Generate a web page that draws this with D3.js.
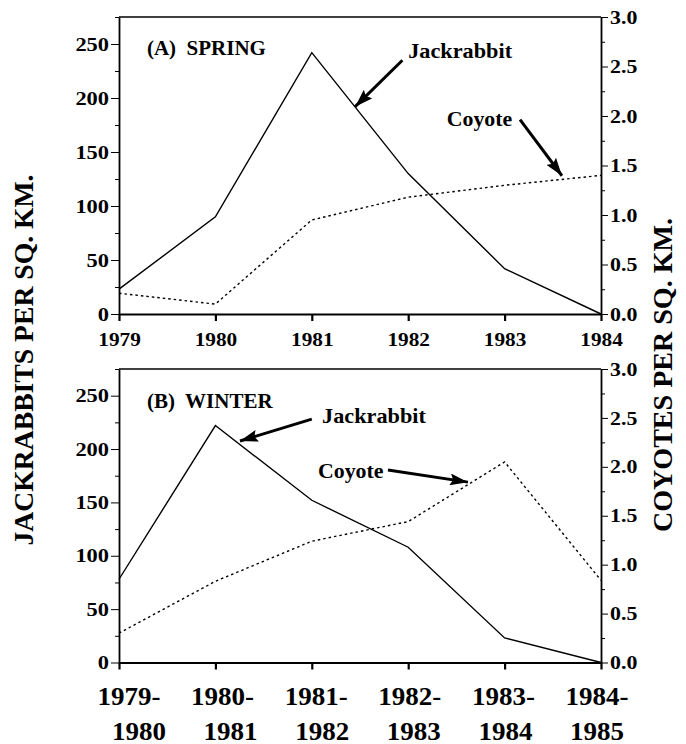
<!DOCTYPE html>
<html>
<head>
<meta charset="utf-8">
<script src="https://cdn.jsdelivr.net/npm/d3@7"></script>
<style>
  html, body { margin: 0; padding: 0; background: #fff; }
</style>
</head>
<body>
<svg id="chart" width="686" height="744"></svg>
<script>
// ---------- data ----------
const springYears = ["1979", "1980", "1981", "1982", "1983", "1984"];
const winterYears = [["1979-", "1980"], ["1980-", "1981"], ["1981-", "1982"], ["1982-", "1983"], ["1983-", "1984"], ["1984-", "1985"]];
const springJackrabbit = [23, 90, 242, 130, 42, 0];
const springCoyote = [0.21, 0.10, 0.95, 1.18, 1.30, 1.40];
const winterJackrabbit = [78, 222, 152, 108, 23, 0];
const winterCoyote = [0.30, 0.83, 1.24, 1.44, 2.05, 0.84];
const jackTicks = [0, 50, 100, 150, 200, 250];
const jackMinor = [25, 75, 125, 175, 225, 275];
const coyoteTicks = [0, 0.5, 1.0, 1.5, 2.0, 2.5, 3.0];
const coyoteMinor = [0.25, 0.75, 1.25, 1.75, 2.25, 2.75];
const panelTitles = ["(A)  SPRING", "(B)  WINTER"];
const yLabelLeft = "JACKRABBITS PER SQ. KM.";
const yLabelRight = "COYOTES PER SQ. KM.";
// annotations in data units: [x index, jackrabbit-axis value]
const springAnno = {
  jackText: [3.0, 237], jackFrom: [2.94, 235], jackTo: [2.45, 192],
  coyText: [3.40, 174], coyFrom: [4.16, 180], coyTo: [4.595, 128]
};
const winterAnno = {
  jackText: [2.106, 224], jackFrom: [2.0, 228], jackTo: [1.255, 207.5],
  coyText: [2.064, 173], coyFrom: [2.79, 180.4], coyTo: [3.62, 169]
};

const FONT = '"Liberation Serif", "Times New Roman", serif';

// ---------- layout ----------
const svg = d3.select("#chart");
const X0 = 119, X1 = 601;
const panels = [
  { top: 17, bottom: 314, jack: springJackrabbit, coy: springCoyote, title: panelTitles[0], anno: springAnno, winter: false },
  { top: 369, bottom: 662.5, jack: winterJackrabbit, coy: winterCoyote, title: panelTitles[1], anno: winterAnno, winter: true }
];

const defs = svg.append("defs");
defs.append("marker").attr("id", "arrow")
  .attr("markerUnits", "userSpaceOnUse")
  .attr("viewBox", "0 0 18 12")
  .attr("markerWidth", 18).attr("markerHeight", 12)
  .attr("refX", 18).attr("refY", 6).attr("orient", "auto")
  .append("path").attr("d", "M0,0 L18,6 L0,12 L3,6 z").attr("fill", "#000");

function styleText(sel, size) {
  sel.attr("font-family", null).attr("font-size", null)
    .style("font-family", FONT).style("font-weight", "bold")
    .style("font-size", size + "px").style("fill", "#000");
  return sel;
}
function stretch(sel, f) {
  sel.each(function () {
    const w = this.getComputedTextLength();
    d3.select(this).attr("textLength", w * f).attr("lengthAdjust", "spacingAndGlyphs");
  });
}

const x = d3.scaleLinear().domain([0, 5]).range([X0, X1]);
// winter tick labels sit on a slightly narrower band than the ticks
const xLab1 = d3.scaleLinear().domain([0, 5]).range([129, 597]);
const xLab2 = d3.scaleLinear().domain([0, 5]).range([139, 597]);

panels.forEach(p => {
  const yL = d3.scaleLinear().domain([0, 275]).range([p.bottom, p.top]);
  const yR = d3.scaleLinear().domain([0, 3]).range([p.bottom, p.top]);
  const g = svg.append("g");

  // top border
  g.append("line").attr("x1", X0).attr("x2", X1).attr("y1", p.top).attr("y2", p.top)
    .attr("stroke", "#000").attr("stroke-width", 1.6);

  // left axis
  const la = g.append("g").attr("transform", `translate(${X0},0)`)
    .call(d3.axisLeft(yL).tickValues(jackTicks).tickSize(8).tickSizeOuter(0).tickPadding(2));
  g.append("g").attr("transform", `translate(${X0},0)`)
    .call(d3.axisLeft(yL).tickValues(jackMinor).tickSize(4).tickSizeOuter(0).tickFormat(""))
    .call(s => s.select(".domain").remove());
  styleText(la.selectAll("text"), 19);
  stretch(la.selectAll("text"), 1.18);

  // right axis
  const ra = g.append("g").attr("transform", `translate(${X1},0)`)
    .call(d3.axisRight(yR).tickValues(coyoteTicks).tickSize(7).tickSizeOuter(0).tickPadding(2)
      .tickFormat(d3.format(".1f")));
  g.append("g").attr("transform", `translate(${X1},0)`)
    .call(d3.axisRight(yR).tickValues(coyoteMinor).tickSize(4).tickSizeOuter(0).tickFormat(""))
    .call(s => s.select(".domain").remove());
  styleText(ra.selectAll("text"), 19);
  stretch(ra.selectAll("text"), 1.15);

  // bottom axis
  const ba = g.append("g").attr("transform", `translate(0,${p.bottom})`)
    .call(d3.axisBottom(x).tickValues(d3.range(6)).tickSize(7).tickSizeOuter(0).tickPadding(12)
      .tickFormat(p.winter ? "" : (d => springYears[d])));
  ba.selectAll(".tick line").attr("stroke-width", 2.2);
  if (!p.winter) {
    styleText(ba.selectAll("text"), 19);
    stretch(ba.selectAll("text"), 1.12);
  } else {
    ba.selectAll(".tick text").remove();
    const wl = g.append("g");
    winterYears.forEach((lab, i) => {
      const t1 = styleText(wl.append("text").attr("x", xLab1(i)).attr("y", p.bottom + 42.5)
        .attr("text-anchor", "middle").text(lab[0]), 25);
      const t2 = styleText(wl.append("text").attr("x", xLab2(i)).attr("y", p.bottom + 77.5)
        .attr("text-anchor", "middle").text(lab[1]), 25);
      stretch(t1, 1.08); stretch(t2, 1.08);
    });
  }
  g.selectAll(".domain").attr("stroke-width", 1.8);

  // lines
  g.append("path").datum(p.jack)
    .attr("fill", "none").attr("stroke", "#000").attr("stroke-width", 1.4)
    .attr("d", d3.line().x((d, i) => x(i)).y(d => yL(d)));
  g.append("path").datum(p.coy)
    .attr("fill", "none").attr("stroke", "#000").attr("stroke-width", 1.4)
    .attr("stroke-dasharray", "2.5,3")
    .attr("d", d3.line().x((d, i) => x(i)).y(d => yR(d)));

  // panel title
  const tt = styleText(g.append("text").attr("x", x(0.29)).attr("y", yL(p.winter ? 238.5 : 240))
    .style("white-space", "pre").text(p.title), 20);
  stretch(tt, 1.05);

  // annotations
  const a = p.anno;
  const jt = styleText(g.append("text").attr("x", x(a.jackText[0])).attr("y", yL(a.jackText[1]))
    .text("Jackrabbit"), 21);
  stretch(jt, 1.06);
  const ct = styleText(g.append("text").attr("x", x(a.coyText[0])).attr("y", yL(a.coyText[1]))
    .text("Coyote"), 21);
  stretch(ct, 1.04);
  [[a.jackFrom, a.jackTo], [a.coyFrom, a.coyTo]].forEach(([f, t]) => {
    g.append("line")
      .attr("x1", x(f[0])).attr("y1", yL(f[1]))
      .attr("x2", x(t[0])).attr("y2", yL(t[1]))
      .attr("stroke", "#000").attr("stroke-width", 3)
      .attr("marker-end", "url(#arrow)");
  });
});

// axis titles
const lt = styleText(svg.append("text").attr("transform", "translate(33,360) rotate(-90)")
  .attr("text-anchor", "middle").text(yLabelLeft), 28);
lt.attr("textLength", 371).attr("lengthAdjust", "spacingAndGlyphs");
const rt = styleText(svg.append("text").attr("transform", "translate(672,375) rotate(-90)")
  .attr("text-anchor", "middle").text(yLabelRight), 28);
rt.attr("textLength", 314).attr("lengthAdjust", "spacingAndGlyphs");
</script>
</body>
</html>
